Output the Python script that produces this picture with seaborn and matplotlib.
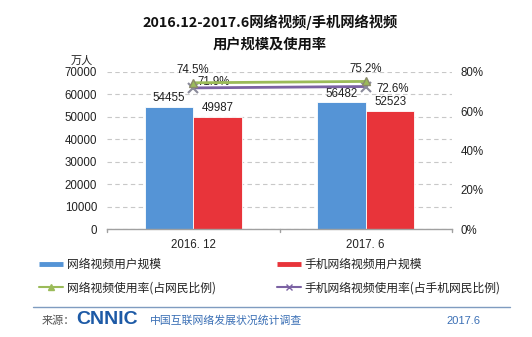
import matplotlib
matplotlib.use("Agg")
import matplotlib.pyplot as plt
from matplotlib.lines import Line2D
import seaborn as sns
import pandas as pd

# Survey periods and series
periods = ["2016. 12", "2017. 6"]
video_users = [54455, 56482]          # 网络视频用户规模 (万人)
mobile_video_users = [49987, 52523]   # 手机网络视频用户规模 (万人)
video_rate = [74.5, 75.2]             # 网络视频使用率 (%)
mobile_video_rate = [71.9, 72.6]      # 手机网络视频使用率 (%)

series_names = ["网络视频用户规模", "手机网络视频用户规模"]
rate_names = ["网络视频使用率(占网民比例)", "手机网络视频使用率(占手机网民比例)"]
left_ticks = [0, 10000, 20000, 30000, 40000, 50000, 60000, 70000]
right_ticks = [0, 20, 40, 60, 80]

sns.set_theme(style="white")
plt.rcParams["font.family"] = ["Liberation Sans", "Noto Sans CJK SC"]

BLUE = "#5594d6"
RED = "#e8343a"
GREEN = "#9bbb59"
PURPLE = "#7b62a3"
GRID = "#c8c8c8"

df = pd.DataFrame({
    "period": periods * 2,
    "series": [series_names[0]] * 2 + [series_names[1]] * 2,
    "users": video_users + mobile_video_users,
})

W, H = 532, 337
fig = plt.figure(figsize=(W / 100, H / 100), dpi=100)
fig.patch.set_facecolor("white")
ax = fig.add_axes([107 / W, 1 - 229 / H, (452 - 107) / W, (229 - 72) / H])

sns.barplot(data=df, x="period", y="users", hue="series", order=periods,
            hue_order=series_names, palette=[BLUE, RED], width=0.565,
            saturation=1, edgecolor="white", linewidth=0.6, ax=ax, legend=False)

ax.set_xlim(-0.5, 1.5)
ax.set_ylim(0, 70000)
ax.set_yticks(left_ticks)
ax.set_yticklabels([str(v) for v in left_ticks])
ax.set_xlabel("")
ax.set_ylabel("")
ax.yaxis.grid(True, color=GRID, linestyle=(0, (4, 3)), linewidth=0.8)
ax.set_axisbelow(True)
for s in ["left", "right", "top"]:
    ax.spines[s].set_visible(False)
ax.spines["bottom"].set_color("#a0a0a0")
ax.spines["bottom"].set_linewidth(1.0)
ax.tick_params(axis="y", length=0, pad=7, labelsize=8.3, colors="#222222")
ax.tick_params(axis="x", length=0, pad=7, labelsize=8.3, colors="#222222")
# small ticks between categories on the bottom axis
for xb in [-0.5, 0.5, 1.5]:
    ax.plot([xb, xb], [0, -1200], color="#a0a0a0", lw=1.0, clip_on=False)

# value labels over the bars
for cont in ax.containers:
    ax.bar_label(cont, fmt="%d", padding=2, fontsize=8.3, color="#222222")

# usage rates on the secondary axis
ax2 = ax.twinx()
ax2.set_ylim(0, 80)
ax2.set_yticks(right_ticks)
ax2.set_yticklabels([f"{v}%" for v in right_ticks])
ax2.tick_params(axis="y", length=0, pad=6, labelsize=8.3, colors="#222222")
for s in ax2.spines.values():
    s.set_visible(False)
ax2.grid(False)
xpos = [0, 1]
ax2.plot(xpos, video_rate, color=GREEN, lw=2.0, marker="^", ms=6,
         markerfacecolor=GREEN, markeredgecolor="#8a8a6a", zorder=4)
ax2.plot(xpos, mobile_video_rate, color=PURPLE, lw=2.0, marker="x", ms=7,
         markeredgecolor="#8a8a9a", mew=1.5, zorder=3)
ax2.annotate(f"{video_rate[0]}%", (0, video_rate[0]), xytext=(0, 7),
             textcoords="offset points", ha="center", fontsize=8.3, color="#222222")
ax2.annotate(f"{video_rate[1]}%", (1, video_rate[1]), xytext=(0, 7),
             textcoords="offset points", ha="center", fontsize=8.3, color="#222222")
ax2.annotate(f"{mobile_video_rate[0]}%", (0, mobile_video_rate[0]), xytext=(3, 0),
             textcoords="offset points", ha="left", va="bottom", fontsize=8.3, color="#222222")
ax2.annotate(f"{mobile_video_rate[1]}%", (1, mobile_video_rate[1]), xytext=(8, -2),
             textcoords="offset points", ha="left", va="center", fontsize=8.3, color="#222222")

# title and unit
cjk = ["Noto Sans CJK SC", "DejaVu Sans"]
fig.text(270 / W, 1 - 22 / H, "2016.12-2017.6网络视频/手机网络视频", ha="center", va="center",
         fontsize=10.3, fontweight="bold", family=cjk, color="#111111")
fig.text(270 / W, 1 - 45 / H, "用户规模及使用率", ha="center", va="center",
         fontsize=10.3, fontweight="bold", family=cjk, color="#111111")
fig.text(82 / W, 1 - 61 / H, "万人", ha="center", va="center", fontsize=8, family=cjk,
         color="#222222")

# legend, two columns
h_blue = Line2D([], [], color=BLUE, lw=3.5, solid_capstyle="butt")
h_red = Line2D([], [], color=RED, lw=3.5, solid_capstyle="butt")
h_green = Line2D([], [], color=GREEN, lw=1.5, marker="^", ms=5)
h_purple = Line2D([], [], color=PURPLE, lw=1.5, marker="x", ms=5)
leg_kw = dict(frameon=False, handlelength=2.0, handletextpad=0.35, labelspacing=0.85,
              prop={"family": cjk, "size": 8.5}, loc="upper left", borderaxespad=0,
              borderpad=0)
fig.legend([h_blue, h_green], [series_names[0], rate_names[0]],
           bbox_to_anchor=(39 / W, 1 - 258 / H), labelcolor="#222222", **leg_kw)
fig.legend([h_red, h_purple], [series_names[1], rate_names[1]],
           bbox_to_anchor=(277 / W, 1 - 258 / H), labelcolor="#222222", **leg_kw)

# footer
fig.add_artist(Line2D([33 / W, 510 / W], [1 - 307 / H, 1 - 307 / H],
                      color="#7f9cc0", lw=1.0))
fig.text(42 / W, 1 - 321 / H, "来源：", ha="left", va="center", fontsize=8,
         family=cjk, color="#555555")
fig.text(76 / W, 1 - 320 / H, "CNNIC", ha="left", va="center", fontsize=14,
         fontweight="bold", family=["Liberation Sans"], color="#1d5aa6")
fig.text(150 / W, 1 - 321 / H, "中国互联网络发展状况统计调查", ha="left", va="center",
         fontsize=7.8, family=cjk, color="#3a6fb5")
fig.text(480 / W, 1 - 321 / H, "2017.6", ha="right", va="center", fontsize=8,
         family=["Liberation Sans"], color="#3a6fb5")

fig.savefig("out.png", dpi=100)
